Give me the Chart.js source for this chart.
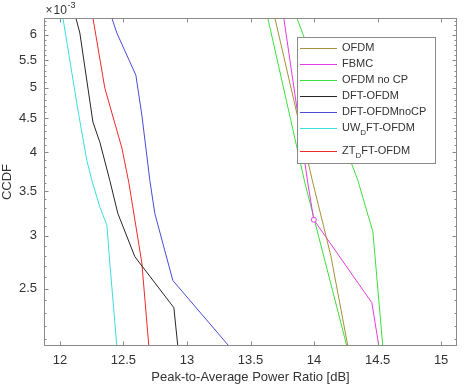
<!DOCTYPE html>
<html>
<head>
<meta charset="utf-8">
<script src="https://cdn.jsdelivr.net/npm/chart.js@4.4.0/dist/chart.umd.min.js"></script>
<style>
  html, body { margin: 0; padding: 0; background: #fff; }
</style>
</head>
<body>
<canvas id="ccdfChart" width="464" height="386"></canvas>
<script>
// Tick labels (CCDF is given in units of 1e-3, as shown on the axis)
const xTicks = [12, 12.5, 13, 13.5, 14, 14.5, 15];
const yTicks = [2.5, 3, 3.5, 4, 4.5, 5, 5.5, 6];

// Series: PAPR [dB] and CCDF (x1e-3)
const ofdmX = [13.692, 13.991, 14.132, 14.266];
const ofdmY = [6.36, 3.60, 2.80, 2.05];

const fbmcX = [13.762, 13.951, 13.998, 14.455, 14.510];
const fbmcY = [6.36, 3.60, 3.17, 2.38, 2.05];

const ofdmNoCpX = [13.865, 14.345, 14.463, 14.541];
const ofdmNoCpY = [6.36, 3.63, 3.04, 2.05];

const ofdmNoCp2X = [13.636, 13.928, 14.258];
const ofdmNoCp2Y = [6.36, 3.60, 2.05];

const dftX = [12.126, 12.157, 12.260, 12.315, 12.393, 12.456, 12.590, 12.897, 12.928];
const dftY = [6.36, 6.04, 4.44, 4.14, 3.63, 3.24, 2.79, 2.34, 2.05];

const dftNoCpX = [12.409, 12.448, 12.598, 12.645, 12.708, 12.747, 12.889, 13.330];
const dftNoCpY = [6.36, 6.04, 5.22, 4.55, 3.63, 3.24, 2.57, 2.05];

const uwX = [12.024, 12.142, 12.212, 12.252, 12.315, 12.370, 12.393, 12.448];
const uwY = [6.36, 4.63, 3.89, 3.63, 3.31, 3.11, 2.73, 2.05];

const ztX = [12.260, 12.354, 12.488, 12.543, 12.645, 12.700];
const ztY = [6.36, 4.99, 4.06, 3.60, 2.73, 2.05];

const textColor = '#333333';
const axisColor = '#8a8a8a';
const fontFamily = "'Liberation Sans', Arial, sans-serif";

function pts(xs, ys) {
    return xs.map((v, i) => ({ x: v, y: ys[i] }));
}

function series(label, xs, ys, color, inLegend) {
    return {
        label: label,
        data: pts(xs, ys),
        borderColor: color,
        backgroundColor: color,
        borderWidth: 1,
        pointRadius: 0,
        tension: 0,
        inLegend: inLegend
    };
}

const datasets = [
    series('OFDM', ofdmX, ofdmY, '#a8903c', true),
    series('FBMC', fbmcX, fbmcY, '#e23ce2', true),
    series('OFDM no CP', ofdmNoCpX, ofdmNoCpY, '#3ede3e', true),
    series('DFT-OFDM', dftX, dftY, '#262626', true),
    series('DFT-OFDMnoCP', dftNoCpX, dftNoCpY, '#4a4ad8', true),
    series('UW_DFT-OFDM', uwX, uwY, '#3cdede', true),
    series('ZT_DFT-OFDM', ztX, ztY, '#ee2a2a', true),
    series('OFDM no CP', ofdmNoCp2X, ofdmNoCp2Y, '#3ede3e', false)
];
// open circle marker on the FBMC curve
datasets[1].pointRadius = [0, 0, 2.5, 0, 0];
datasets[1].pointBackgroundColor = '#ffffff';

// Draw a label where "_X" means X as a subscript
function drawLabel(ctx, text, x, y) {
    const parts = text.split('_');
    let cx = x;
    ctx.font = '11px ' + fontFamily;
    ctx.fillText(parts[0], cx, y);
    cx += ctx.measureText(parts[0]).width;
    if (parts.length > 1) {
        const sub = parts[1].charAt(0);
        const rest = parts[1].slice(1);
        ctx.font = '8px ' + fontFamily;
        ctx.fillText(sub, cx, y + 5);
        cx += ctx.measureText(sub).width;
        ctx.font = '11px ' + fontFamily;
        ctx.fillText(rest, cx, y);
    }
}

// MATLAB style box, inward ticks, legend and exponent label
const matlabFrame = {
    id: 'matlabFrame',
    afterDatasetsDraw(chart) {
        const { ctx, chartArea: a, scales: { x, y } } = chart;
        ctx.save();
        ctx.strokeStyle = axisColor;
        ctx.lineWidth = 1;
        const L = Math.round(a.left) + 0.5, R = Math.round(a.right) - 0.5;
        const T = Math.round(a.top) + 0.5, B = Math.round(a.bottom) - 0.5;
        ctx.strokeRect(L, T, R - L, B - T);

        ctx.beginPath();
        xTicks.forEach(v => {
            const px = Math.round(x.getPixelForValue(v)) + 0.5;
            ctx.moveTo(px, B); ctx.lineTo(px, B - 4);
            ctx.moveTo(px, T); ctx.lineTo(px, T + 4);
        });
        for (let k = 21; k <= 63; k++) {
            const v = k / 10;
            const major = yTicks.some(t => Math.abs(t - v) < 1e-9);
            const len = major ? 4 : 2;
            const py = Math.round(y.getPixelForValue(v)) + 0.5;
            ctx.moveTo(L, py); ctx.lineTo(L + len, py);
            ctx.moveTo(R, py); ctx.lineTo(R - len, py);
        }
        ctx.stroke();

        // legend
        const lx = Math.round(a.right) - 160, ly = Math.round(a.top) + 19;
        const lw = 138, lh = 126;
        ctx.fillStyle = '#ffffff';
        ctx.fillRect(lx, ly, lw, lh);
        ctx.strokeRect(lx + 0.5, ly + 0.5, lw, lh);
        ctx.textBaseline = 'middle';
        ctx.textAlign = 'left';
        let row = 0;
        chart.data.datasets.forEach(ds => {
            if (!ds.inLegend) return;
            const cy = ly + 10.5 + row * 16 + (row === 6 ? 7 : 0);
            ctx.strokeStyle = ds.borderColor;
            ctx.beginPath();
            ctx.moveTo(lx + 3, Math.round(cy) + 0.5);
            ctx.lineTo(lx + 40, Math.round(cy) + 0.5);
            ctx.stroke();
            ctx.fillStyle = textColor;
            drawLabel(ctx, ds.label, lx + 45, cy);
            row++;
        });

        // exponent
        ctx.fillStyle = textColor;
        ctx.textBaseline = 'alphabetic';
        ctx.font = '12px ' + fontFamily;
        ctx.fillText('\u00d7', L + 1, 14);
        ctx.fillText('10', L + 9, 14);
        ctx.font = '9px ' + fontFamily;
        ctx.fillText('-3', L + 23, 8);
        ctx.restore();
    }
};

new Chart(document.getElementById('ccdfChart').getContext('2d'), {
    type: 'line',
    data: { datasets: datasets },
    options: {
        responsive: false,
        animation: false,
        layout: { padding: { top: 18, right: 7, left: 0, bottom: 0 } },
        plugins: {
            legend: { display: false },
            tooltip: { enabled: false }
        },
        scales: {
            x: {
                type: 'linear',
                min: 11.875,
                max: 15.125,
                afterBuildTicks: scale => { scale.ticks = xTicks.map(v => ({ value: v })); },
                afterFit: scale => { scale.height = 40; },
                grid: { display: false, drawTicks: false },
                border: { display: false },
                ticks: {
                    autoSkip: false,
                    maxRotation: 0,
                    padding: 7,
                    color: textColor,
                    font: { family: fontFamily, size: 13 },
                    callback: v => String(v)
                },
                title: {
                    display: true,
                    text: 'Peak-to-Average Power Ratio [dB]',
                    color: textColor,
                    font: { family: fontFamily, size: 13 },
                    padding: { top: 0, bottom: 1 }
                }
            },
            y: {
                type: 'logarithmic',
                min: 2.05,
                max: 6.36,
                afterBuildTicks: scale => { scale.ticks = yTicks.map(v => ({ value: v })); },
                afterFit: scale => { scale.width = 44; },
                grid: { display: false, drawTicks: false },
                border: { display: false },
                ticks: {
                    autoSkip: false,
                    padding: 7,
                    color: textColor,
                    font: { family: fontFamily, size: 13 },
                    callback: v => String(v)
                },
                title: {
                    display: true,
                    text: 'CCDF',
                    color: textColor,
                    font: { family: fontFamily, size: 13 },
                    padding: { top: 0, bottom: 0 }
                }
            }
        }
    },
    plugins: [matlabFrame]
});
</script>
</body>
</html>
